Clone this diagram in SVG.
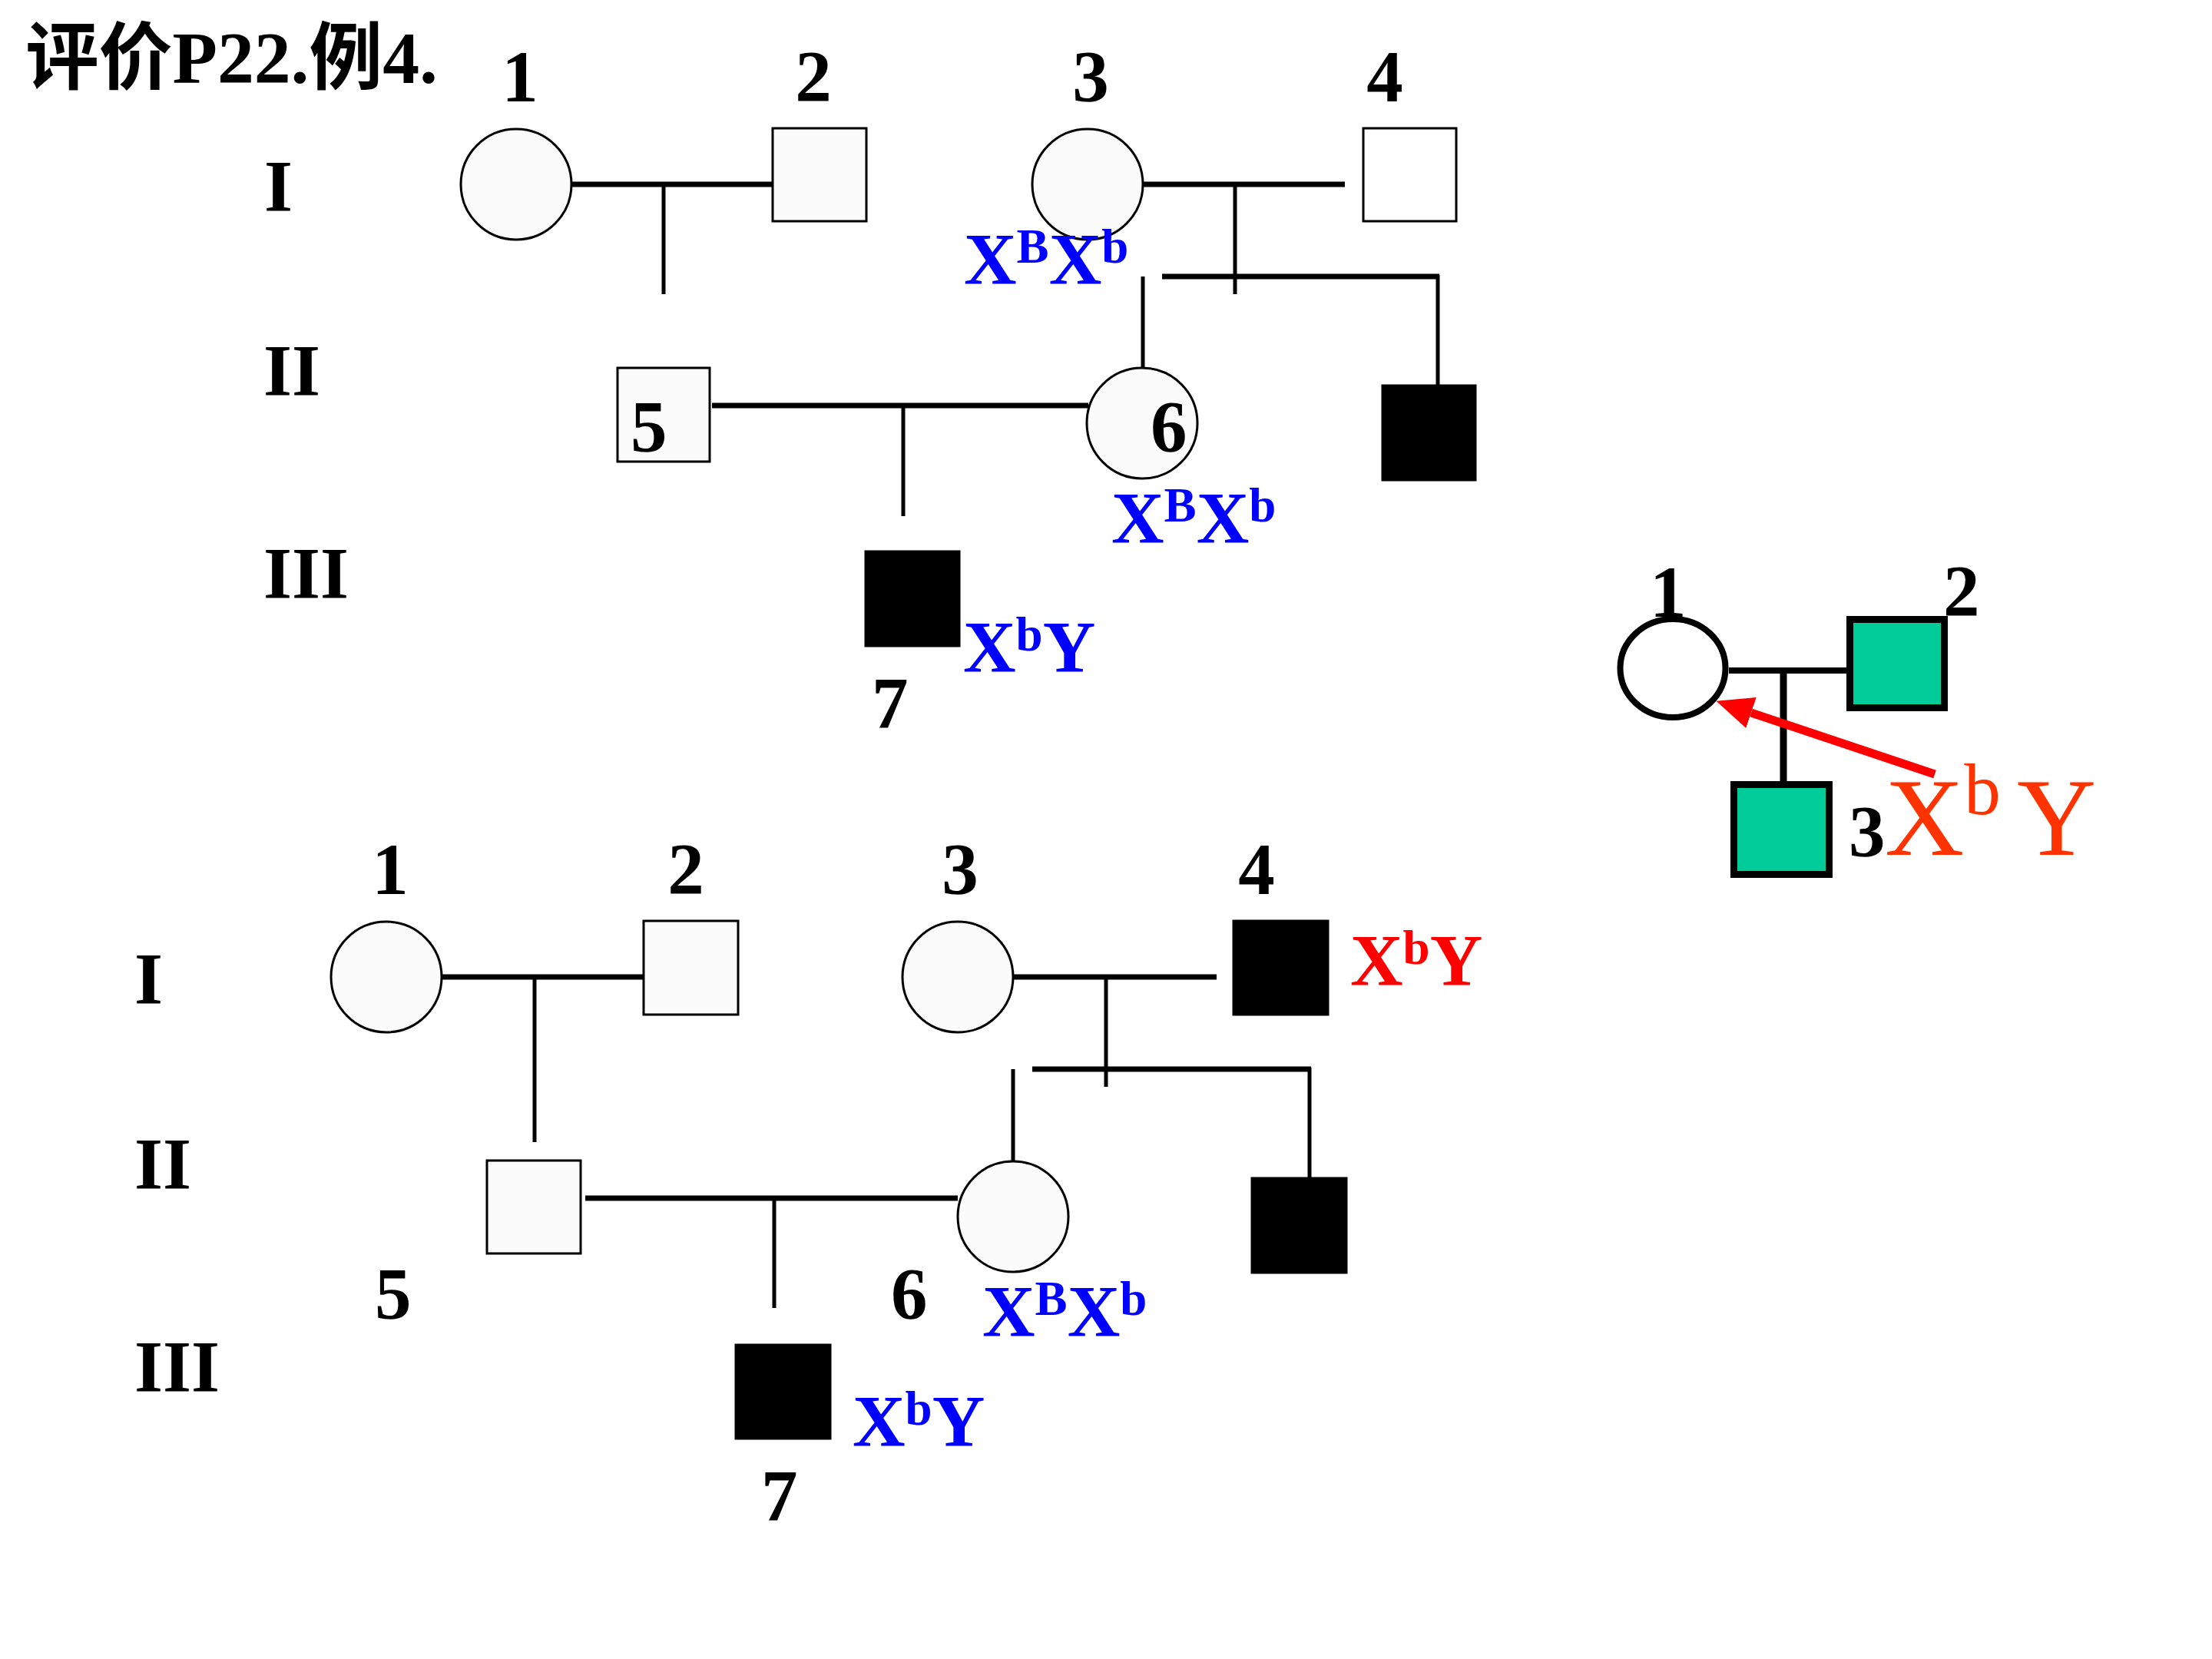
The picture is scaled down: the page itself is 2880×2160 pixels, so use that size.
<svg xmlns="http://www.w3.org/2000/svg" width="2880" height="2160" viewBox="0 0 2880 2160">
<style>
.t{font-family:"Liberation Serif","Times New Roman",serif;font-weight:bold;font-size:95px;fill:#000}
.c{text-anchor:middle}
.geno{font-family:"Liberation Serif","Times New Roman",serif;font-weight:bold;font-size:95px;fill:#0000FF}
.red{fill:#FF0000}
.sup{font-size:63px}
.f{fill:#FBFBFB;stroke:#000;stroke-width:3}
.a{fill:#000;stroke:#000;stroke-width:3}
.cl{stroke:#000;stroke-width:7;fill:none}
.dl{stroke:#000;stroke-width:5;fill:none}
.g{fill:#00CC99;stroke:#000;stroke-width:9}
</style>
<defs>
<marker id="ah" markerUnits="userSpaceOnUse" markerWidth="50" markerHeight="46" viewBox="0 0 50 46" refX="0" refY="23" orient="auto">
<path d="M0,2 L48,23 L0,44 z" fill="#FF0000"/>
</marker>
</defs>
<rect width="2880" height="2160" fill="#FFFFFF"/>
<text x="33" y="108" font-family="'Liberation Serif','Noto Sans CJK SC',serif" font-weight="bold" font-size="96" textLength="537" lengthAdjust="spacingAndGlyphs">评价P22.例4.</text>

<g id="connectors">
<line class="cl" x1="743" y1="240" x2="1006" y2="240"/>
<line class="dl" x1="864" y1="240" x2="864" y2="383"/>
<line class="cl" x1="1488" y1="240" x2="1751" y2="240"/>
<line class="dl" x1="1608" y1="240" x2="1608" y2="383"/>
<line class="cl" x1="1513" y1="360" x2="1874" y2="360"/>
<line class="dl" x1="1488" y1="360" x2="1488" y2="479"/>
<line class="dl" x1="1872" y1="358" x2="1872" y2="502"/>
<line class="cl" x1="927" y1="528" x2="1417" y2="528"/>
<line class="dl" x1="1176" y1="528" x2="1176" y2="672"/>

<line class="cl" x1="575" y1="1272" x2="838" y2="1272"/>
<line class="dl" x1="696" y1="1272" x2="696" y2="1487"/>
<line class="cl" x1="1319" y1="1272" x2="1584" y2="1272"/>
<line class="dl" x1="1440" y1="1272" x2="1440" y2="1415"/>
<line class="cl" x1="1344" y1="1392" x2="1707" y2="1392"/>
<line class="dl" x1="1319" y1="1392" x2="1319" y2="1512"/>
<line class="dl" x1="1705" y1="1390" x2="1705" y2="1534"/>
<line class="cl" x1="762" y1="1560" x2="1247" y2="1560"/>
<line class="dl" x1="1008" y1="1560" x2="1008" y2="1703"/>

<line stroke="#000" stroke-width="8" x1="2251" y1="873" x2="2404" y2="873"/>
<line stroke="#000" stroke-width="9" x1="2322" y1="873" x2="2322" y2="1017"/>
<line stroke="#FF0000" stroke-width="11" x1="2519" y1="1008" x2="2280" y2="928" marker-end="url(#ah)"/>
</g>

<g id="gen-labels">
<text class="t" x="344" y="275">I</text>
<text class="t" x="343" y="515">II</text>
<text class="t" x="343" y="779">III</text>
<text class="t" x="175" y="1307">I</text>
<text class="t" x="175" y="1548">II</text>
<text class="t" x="175" y="1812">III</text>
</g>

<g id="u1"><circle class="f" cx="672" cy="240" r="72"/><text class="t c" x="677" y="132">1</text></g>
<g id="u2"><rect class="f" x="1006" y="167" width="122" height="121"/><text class="t c" x="1059" y="132">2</text></g>
<g id="u3"><circle class="f" cx="1416" cy="240" r="72"/><text class="t c" x="1420" y="132">3</text>
<text class="geno" x="1255" y="370">X<tspan class="sup" dy="-28">B</tspan><tspan dy="28">X</tspan><tspan class="sup" dy="-28">b</tspan></text></g>
<g id="u4"><rect class="f" x="1775" y="167" width="121" height="121" style="fill:#FFFFFF"/><text class="t c" x="1803" y="132">4</text></g>
<g id="u5"><rect class="f" x="804" y="479" width="120" height="122"/><text class="t" x="821" y="588">5</text></g>
<g id="u6"><circle class="f" cx="1487" cy="551" r="72"/><text class="t" x="1498" y="588">6</text>
<text class="geno" x="1447" y="707">X<tspan class="sup" dy="-28">B</tspan><tspan dy="28">X</tspan><tspan class="sup" dy="-28">b</tspan></text></g>
<g id="u-sib"><rect class="a" x="1800" y="502" width="121" height="123"/></g>
<g id="u7"><rect class="a" x="1127" y="718" width="122" height="123"/><text class="t" x="1135" y="948">7</text>
<text class="geno" x="1254" y="875">X<tspan class="sup" dy="-28">b</tspan><tspan dy="28">Y</tspan></text></g>

<g id="l1"><circle class="f" cx="503" cy="1272" r="72"/><text class="t c" x="508" y="1164">1</text></g>
<g id="l2"><rect class="f" x="838" y="1199" width="123" height="122"/><text class="t c" x="893" y="1164">2</text></g>
<g id="l3"><circle class="f" cx="1247" cy="1272" r="72"/><text class="t c" x="1250" y="1164">3</text></g>
<g id="l4"><rect class="a" x="1606" y="1199" width="123" height="122"/><text class="t c" x="1636" y="1164">4</text>
<text class="geno red" x="1758" y="1283">X<tspan class="sup" dy="-28">b</tspan><tspan dy="28">Y</tspan></text></g>
<g id="l5"><rect class="f" x="634" y="1511" width="122" height="121"/><text class="t" x="488" y="1717">5</text></g>
<g id="l6"><circle class="f" cx="1319" cy="1584" r="72"/><text class="t" x="1160" y="1717">6</text>
<text class="geno" x="1279" y="1740">X<tspan class="sup" dy="-28">B</tspan><tspan dy="28">X</tspan><tspan class="sup" dy="-28">b</tspan></text></g>
<g id="l-sib"><rect class="a" x="1630" y="1534" width="123" height="123"/></g>
<g id="l7"><rect class="a" x="958" y="1751" width="123" height="122"/><text class="t" x="991" y="1980">7</text>
<text class="geno" x="1110" y="1883">X<tspan class="sup" dy="-28">b</tspan><tspan dy="28">Y</tspan></text></g>

<g id="s1"><ellipse cx="2178" cy="870" rx="68.5" ry="64" fill="#FFFFFF" stroke="#000" stroke-width="8"/><text class="t" x="2148" y="803">1</text></g>
<g id="s2"><rect class="g" x="2408.5" y="806.5" width="123" height="115"/><text class="t" x="2530" y="802">2</text></g>
<g id="s3"><rect class="g" x="2257.5" y="1021.5" width="124" height="117"/><text class="t" x="2407" y="1115">3</text>
<text x="2454" y="1113" font-family="'Liberation Serif','Times New Roman',serif" font-size="143" fill="#FF3300">X<tspan font-size="95" dy="-53">b</tspan><tspan x="2626" dy="53">Y</tspan></text></g>
</svg>
